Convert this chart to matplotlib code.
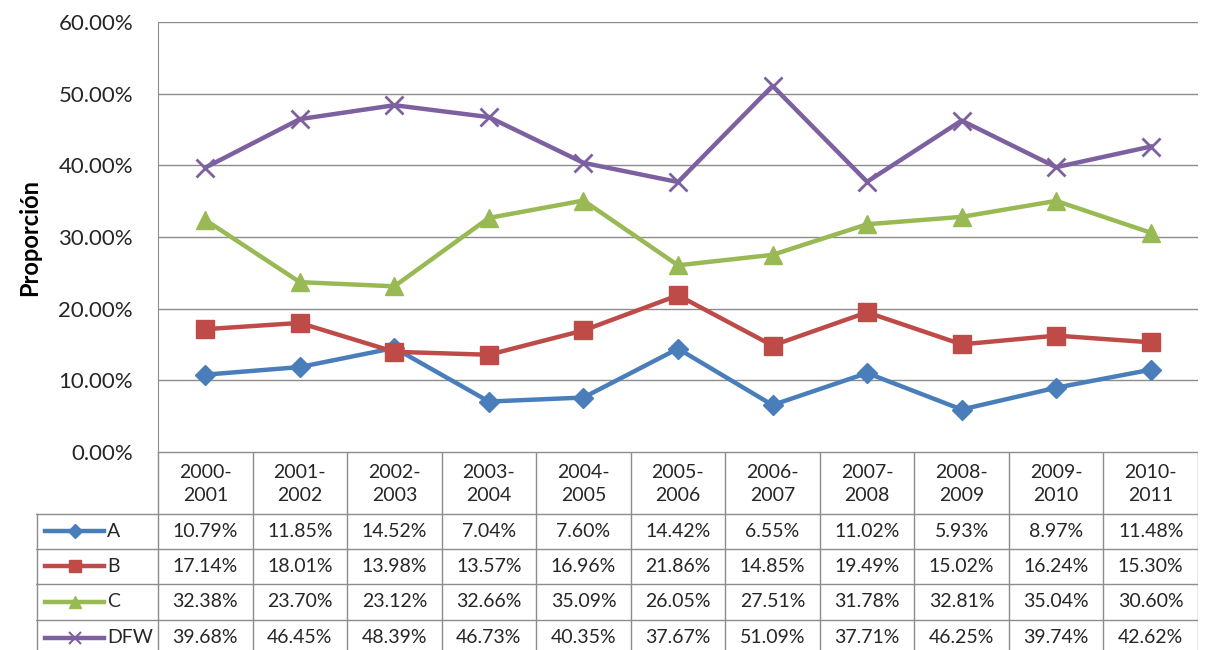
import numpy as np
import matplotlib
matplotlib.use("Agg")
from matplotlib import pyplot as plt

plt.rcParams["font.family"] = ["Lato", "DejaVu Sans"]

years = ["2000-\n2001", "2001-\n2002", "2002-\n2003", "2003-\n2004", "2004-\n2005",
         "2005-\n2006", "2006-\n2007", "2007-\n2008", "2008-\n2009", "2009-\n2010",
         "2010-\n2011"]
names = ["A", "B", "C", "DFW"]
A = [10.79, 11.85, 14.52, 7.04, 7.60, 14.42, 6.55, 11.02, 5.93, 8.97, 11.48]
B = [17.14, 18.01, 13.98, 13.57, 16.96, 21.86, 14.85, 19.49, 15.02, 16.24, 15.30]
C = [32.38, 23.70, 23.12, 32.66, 35.09, 26.05, 27.51, 31.78, 32.81, 35.04, 30.60]
DFW = [39.68, 46.45, 48.39, 46.73, 40.35, 37.67, 51.09, 37.71, 46.25, 39.74, 42.62]
yticks = [0, 10, 20, 30, 40, 50, 60]

series = [A, B, C, DFW]
colors = ["#4a7ebb", "#be4b48", "#98b954", "#7d60a0"]
markers = ["D", "s", "^", "x"]
msizes = [10, 13, 13, 13]
grid_c = "#8c8c8c"
text_c = "#262626"

W, H = 1209, 650
fig = plt.figure(figsize=(W / 100, H / 100), dpi=100)

# pixel geometry
x0, x1 = 158, 1198
ytop, ybot = 22, 452
leg_x = 36
row_y = [452, 514, 549, 584, 620, 656]

ax = fig.add_axes([x0 / W, 1 - ybot / H, (x1 - x0) / W, (ybot - ytop) / H])
n = len(years)
x = np.arange(n)
for vals, c, m, ms in zip(series, colors, markers, msizes):
    ax.plot(x, vals, color=c, lw=3.2, marker=m, ms=ms, mew=2 if m == "x" else 1,
            mec=c, mfc=c, solid_joinstyle="round", zorder=3)
ax.set_xlim(-0.5, n - 0.5)
ax.set_ylim(0, 60)
ax.set_yticks(yticks)
ax.set_yticklabels([f"{v:.2f}%" for v in yticks], fontsize=16, color=text_c)
ax.set_xticks([])
ax.grid(axis="y", color=grid_c, lw=1)
for s in ["top", "right", "bottom"]:
    ax.spines[s].set_visible(False)
ax.spines["left"].set_color(grid_c)
ax.tick_params(axis="y", length=0, pad=18)
ax.set_ylabel("Proporción", fontsize=17, fontweight="bold", color="black", labelpad=12)

# data table
colw = (x1 - x0) / n
left_d = -0.5 - (x0 - leg_x) / colw
tx = fig.add_axes([leg_x / W, 0, (x1 - leg_x) / W, 1 - ybot / H])
tx.set_xlim(left_d, n - 0.5)
tx.set_ylim(H, ybot)
tx.axis("off")

lc = dict(color=grid_c, lw=1)
# horizontal lines
tx.plot([-0.5, n - 0.5], [row_y[0], row_y[0]], **lc)
for yy in row_y[1:5]:
    tx.plot([left_d, n - 0.5], [yy, yy], **lc)
# vertical lines
for i in range(n + 1):
    tx.plot([i - 0.5, i - 0.5], [row_y[0], H], **lc)
tx.plot([left_d + 0.01, left_d + 0.01], [row_y[1], H], **lc)

for i, yr in enumerate(years):
    tx.text(i, (row_y[0] + row_y[1]) / 2 + 1, yr, ha="center", va="center",
            fontsize=14, color=text_c, linespacing=1.45)

for r, (nm, vals, c, m, ms) in enumerate(zip(names, series, colors, markers, msizes)):
    yc = (row_y[r + 1] + row_y[r + 2]) / 2
    # legend key
    kx = [left_d + 0.1, left_d + 0.72]
    tx.plot(kx, [yc, yc], color=c, lw=3.2)
    tx.plot([np.mean(kx)], [yc], color=c, marker=m, ms=ms * 0.7,
            mew=1.5 if m == "x" else 1, ls="none")
    tx.text(kx[1] + 0.03, yc, nm, ha="left", va="center", fontsize=14, color=text_c)
    for i, v in enumerate(vals):
        tx.text(i, yc, f"{v:.2f}%", ha="center", va="center", fontsize=14, color=text_c)

fig.savefig("out.png", dpi=100)
